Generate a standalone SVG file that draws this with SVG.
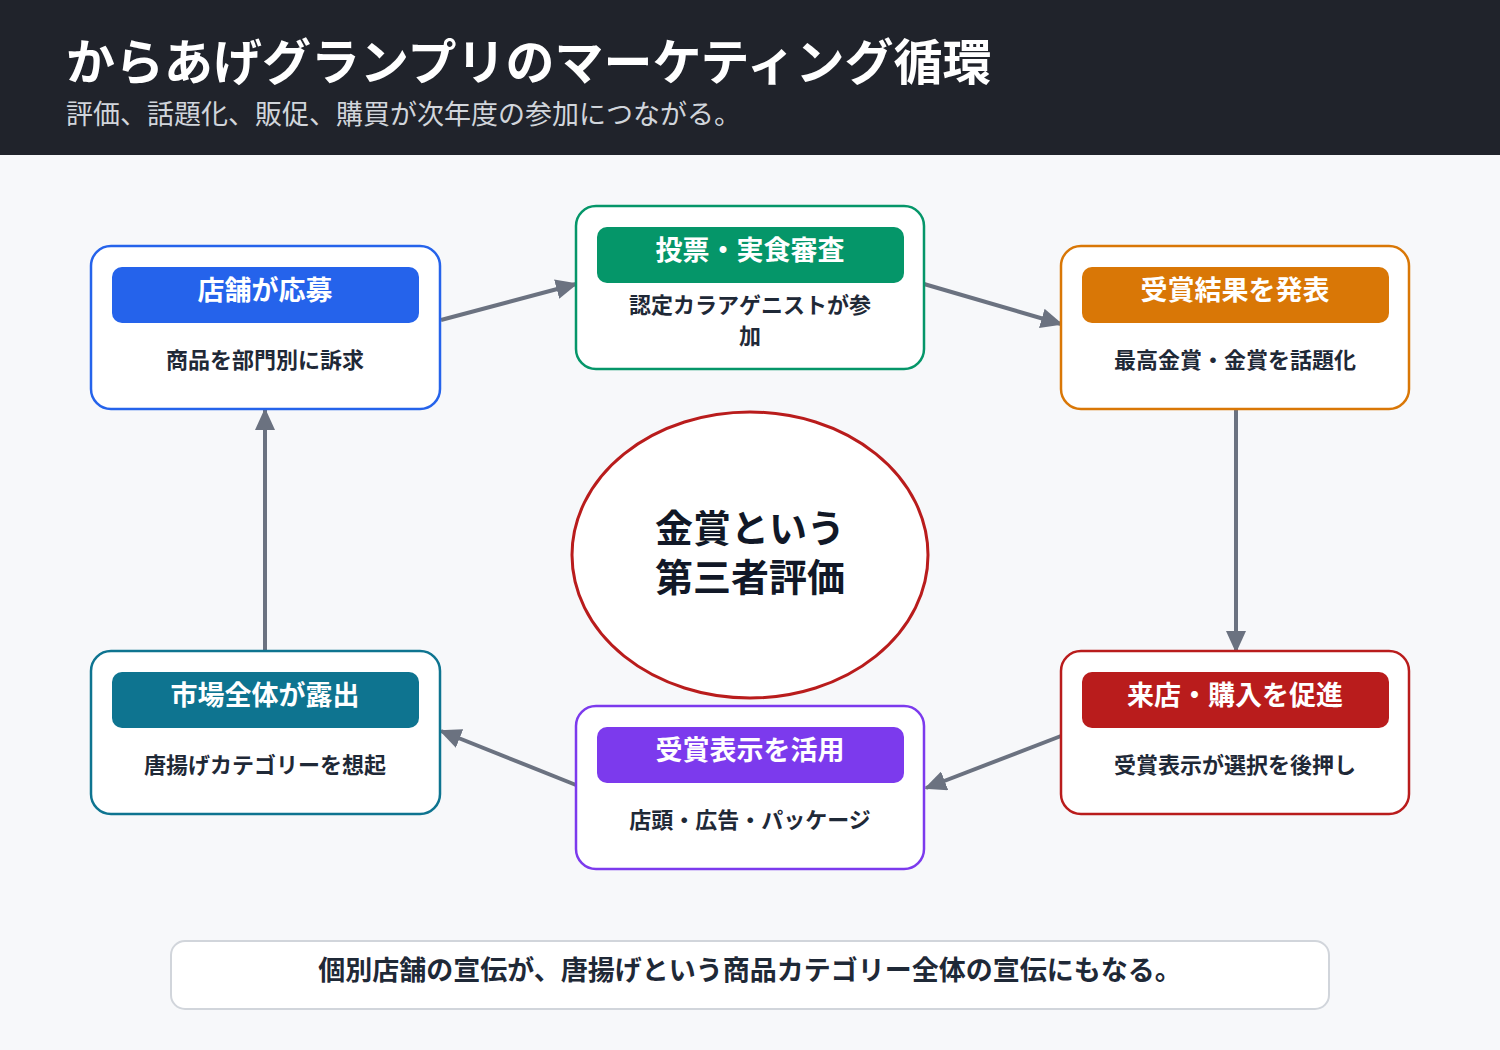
<svg xmlns="http://www.w3.org/2000/svg" width="1500" height="1050" viewBox="0 0 1500 1050">
<defs>
<style>
text{font-family:"Noto Sans CJK JP","Noto Sans",sans-serif;}
.box{fill:#ffffff;stroke-width:2.5;}
.hd{font-size:27px;font-weight:700;fill:#ffffff;text-anchor:middle;}
.ds{font-size:22px;font-weight:700;fill:#1f2937;text-anchor:middle;}
.con{stroke:#6b7280;stroke-width:4;fill:none;marker-end:url(#ah);}
</style>
<marker id="ah" markerUnits="userSpaceOnUse" markerWidth="22" markerHeight="20" refX="20" refY="10" orient="auto">
<path d="M0,0 L22,10 L0,20 Z" fill="#6b7280"/>
</marker>
</defs>
<rect width="1500" height="1050" fill="#f7f8fa"/>
<g id="header">
<rect x="0" y="0" width="1500" height="155" fill="#20232b"/>
<text x="66" y="80" font-size="49" font-weight="700" fill="#ffffff">からあげグランプリのマーケティング循環</text>
<text x="66" y="124" font-size="27" fill="#d1d5db">評価、話題化、販促、購買が次年度の参加につながる。</text>
</g>
<g id="connectors">
<line class="con" x1="441" y1="320" x2="576" y2="284"/>
<line class="con" x1="924" y1="284" x2="1061" y2="324"/>
<line class="con" x1="1236" y1="409" x2="1236" y2="651"/>
<line class="con" x1="1061" y1="736" x2="926" y2="788"/>
<line class="con" x1="576" y1="785" x2="441" y2="731"/>
<line class="con" x1="265" y1="651" x2="265" y2="410"/>
</g>
<g id="center">
<ellipse cx="750" cy="555" rx="178" ry="143" fill="#ffffff" stroke="#b91c1c" stroke-width="3"/>
<text x="750" y="542" font-size="38" font-weight="700" fill="#111827" text-anchor="middle">金賞という</text>
<text x="750" y="591" font-size="38" font-weight="700" fill="#111827" text-anchor="middle">第三者評価</text>
</g>
<g id="node-apply">
<rect class="box" x="91" y="246" width="349" height="163" rx="20" stroke="#2563eb"/>
<rect x="112" y="267" width="307" height="56" rx="10" fill="#2563eb"/>
<text class="hd" x="265" y="300">店舗が応募</text>
<text class="ds" x="265" y="368">商品を部門別に訴求</text>
</g>
<g id="node-judge">
<rect class="box" x="576" y="206" width="348" height="163" rx="20" stroke="#059669"/>
<rect x="597" y="227" width="307" height="56" rx="10" fill="#059669"/>
<text class="hd" x="750" y="260">投票・実食審査</text>
<text class="ds" x="750" y="313">認定カラアゲニストが参</text>
<text class="ds" x="750" y="344">加</text>
</g>
<g id="node-announce">
<rect class="box" x="1061" y="246" width="348" height="163" rx="20" stroke="#d97706"/>
<rect x="1082" y="267" width="307" height="56" rx="10" fill="#d97706"/>
<text class="hd" x="1235" y="300">受賞結果を発表</text>
<text class="ds" x="1235" y="368">最高金賞・金賞を話題化</text>
</g>
<g id="node-promote">
<rect class="box" x="1061" y="651" width="348" height="163" rx="20" stroke="#b91c1c"/>
<rect x="1082" y="672" width="307" height="56" rx="10" fill="#b91c1c"/>
<text class="hd" x="1235" y="705">来店・購入を促進</text>
<text class="ds" x="1235" y="773">受賞表示が選択を後押し</text>
</g>
<g id="node-display">
<rect class="box" x="576" y="706" width="348" height="163" rx="20" stroke="#7c3aed"/>
<rect x="597" y="727" width="307" height="56" rx="10" fill="#7c3aed"/>
<text class="hd" x="750" y="760">受賞表示を活用</text>
<text class="ds" x="750" y="828">店頭・広告・パッケージ</text>
</g>
<g id="node-market">
<rect class="box" x="91" y="651" width="349" height="163" rx="20" stroke="#0e7490"/>
<rect x="112" y="672" width="307" height="56" rx="10" fill="#0e7490"/>
<text class="hd" x="265" y="705">市場全体が露出</text>
<text class="ds" x="265" y="773">唐揚げカテゴリーを想起</text>
</g>
<g id="footer-note">
<rect x="171" y="941" width="1158" height="68" rx="14" fill="#ffffff" stroke="#d1d5db" stroke-width="2"/>
<text x="750" y="980" font-size="27" font-weight="700" fill="#1f2937" text-anchor="middle">個別店舗の宣伝が、唐揚げという商品カテゴリー全体の宣伝にもなる。</text>
</g>
</svg>
